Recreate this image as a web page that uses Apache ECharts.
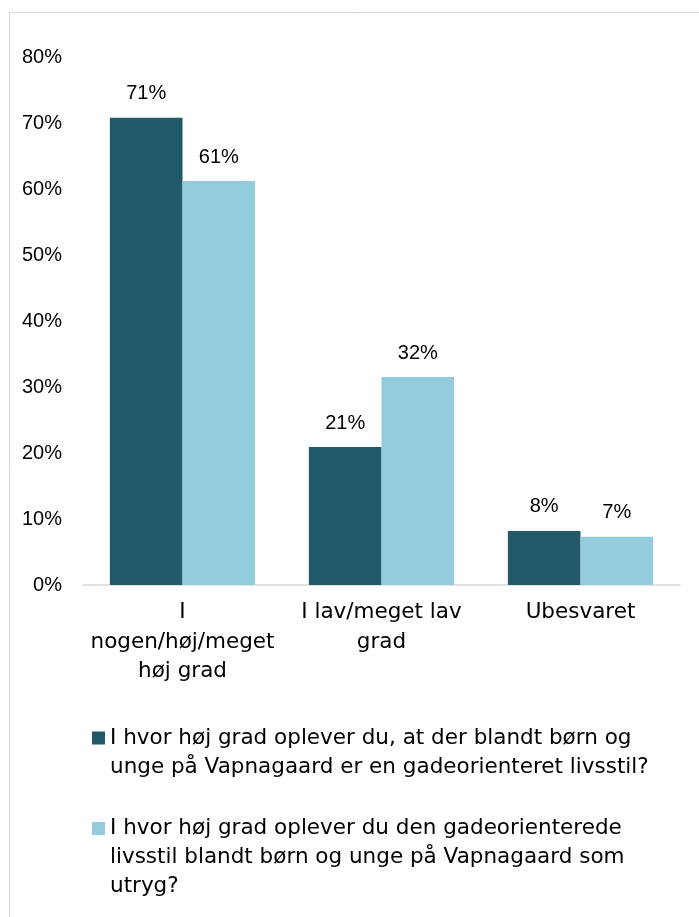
<!DOCTYPE html>
<html>
<head>
    <meta charset="utf-8">
    <title>Gadeorienteret livsstil</title>
    <script src="https://cdn.jsdelivr.net/npm/echarts@6/dist/echarts.min.js"></script>
    <style>
        html, body { margin: 0; padding: 0; background: #fff; }
        #chart { width: 699px; height: 917px; }
    </style>
</head>
<body>
    <div id="chart"></div>
    <script type="text/javascript">
    // data
    var categories = ['I\nnogen/høj/meget\nhøj grad', 'I lav/meget lav\ngrad', 'Ubesvaret'];
    var seriesNames = [
        'I hvor høj grad oplever du, at der blandt børn og\nunge på Vapnagaard er en gadeorienteret livsstil?',
        'I hvor høj grad oplever du den gadeorienterede\nlivsstil blandt børn og unge på Vapnagaard som\nutryg?'
    ];
    var values1 = [70.8, 20.9, 8.2];
    var values2 = [61.2, 31.5, 7.3];
    var yTicks = [0, 10, 20, 30, 40, 50, 60, 70, 80];

    var textFont = '"DejaVu Sans", Verdana, sans-serif';
    var numFont = '"Liberation Sans", Arial, sans-serif';
    var colors = ['#215968', '#93cddd'];
    var lineH = 29;

    var chart = echarts.init(document.getElementById('chart'));

    function barLabel() {
        return {
            show: true,
            position: 'top',
            distance: 14,
            color: '#000',
            fontFamily: numFont,
            fontSize: 20,
            formatter: function (p) { return Math.round(p.value) + '%'; }
        };
    }

    // square icon sitting on the first text line of a multi-line legend entry
    function legendIcon(lines) {
        var h = lines * lineH;
        return 'path://M0,0h0.05v0.05h-0.05zM0,8h13v13h-13zM0,' + (h - 0.05) + 'h0.05v0.05h-0.05z';
    }

    function legendBlock(idx, top) {
        var lines = seriesNames[idx].split('\n').length;
        return {
            orient: 'vertical',
            left: 87,
            top: top,
            itemWidth: 13,
            itemHeight: lines * lineH,
            itemGap: 0,
            icon: legendIcon(lines),
            selectedMode: false,
            textStyle: {
                fontFamily: textFont,
                fontSize: 21.5,
                color: '#000',
                lineHeight: lineH
            },
            data: [seriesNames[idx]]
        };
    }

    var option = {
        animation: false,
        color: colors,
        graphic: [{
            type: 'rect',
            shape: { x: 9.5, y: 12.5, width: 720, height: 940 },
            style: { fill: 'none', stroke: '#d9d9d9', lineWidth: 1 },
            silent: true
        }],
        grid: { left: 83, right: 19, top: 57, bottom: 332 },
        legend: [legendBlock(0, 718.5), legendBlock(1, 809)],
        xAxis: {
            type: 'category',
            data: categories,
            axisLine: { lineStyle: { color: '#d9d9d9', width: 1.5 } },
            axisTick: { show: false },
            axisLabel: {
                color: '#000',
                fontFamily: textFont,
                fontSize: 21.5,
                lineHeight: 29.5,
                margin: 13,
                interval: 0
            }
        },
        yAxis: {
            type: 'value',
            min: yTicks[0],
            max: yTicks[yTicks.length - 1],
            interval: 10,
            splitLine: { show: false },
            axisLine: { show: false },
            axisTick: { show: false },
            axisLabel: {
                color: '#000',
                fontFamily: numFont,
                fontSize: 20,
                margin: 21,
                formatter: '{value}%'
            }
        },
        series: [
            {
                name: seriesNames[0],
                type: 'bar',
                data: values1,
                barGap: '0%',
                barCategoryGap: '27%',
                label: barLabel()
            },
            {
                name: seriesNames[1],
                type: 'bar',
                data: values2,
                label: barLabel()
            }
        ]
    };

    chart.setOption(option);
    </script>
</body>
</html>
